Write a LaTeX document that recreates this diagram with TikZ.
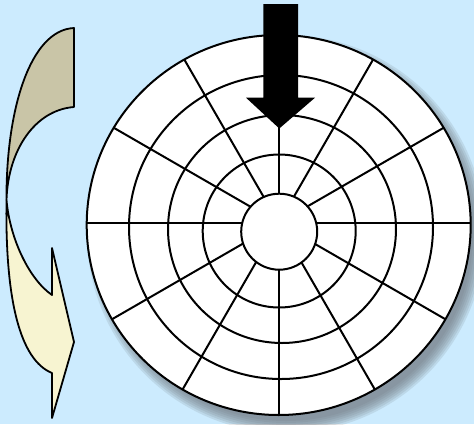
\documentclass[tikz,border=0pt]{standalone}
\usetikzlibrary{calc}
\definecolor{bg}{RGB}{204,235,254}
\definecolor{tan}{RGB}{201,197,167}
\definecolor{cream}{RGB}{247,244,209}
\definecolor{shadowc}{RGB}{110,118,126}
\tikzset{ring/.style={draw=black,line width=2pt},
  spoke/.style={draw=black,line width=2pt},
  ribbon/.style={draw=black,line width=1.8pt,line join=round}}
\begin{document}
\begin{tikzpicture}[x=1pt,y=-1pt]
\fill[bg] (0,0) rectangle (474,424);
\useasboundingbox (0,0) rectangle (474,424);
% shadow
\foreach \r in {199,197,195,193,191,189,187}{
  \fill[shadowc,opacity=0.16] (286,234) circle (\r);
}
% disk
\fill[white] (278.7,225) ellipse (192 and 190);
% spokes
\begin{scope}
\clip (278.7,225) ellipse (192 and 190);
\foreach \a in {0,30,...,330}{
  \draw[spoke] (278.7,223) -- ({278.7+200*cos(\a)},{223-200*sin(\a)});
}
\end{scope}
\draw[ring] (278.7,225) ellipse (192 and 190);
\draw[ring] (281,227) circle (152);
\draw[ring] (282,229) circle (114);
\draw[ring] (279.2,231) circle (76.5);
\draw[ring,fill=white] (279.2,231.7) circle (38);
% black arrow
\fill[black] (263.3,4) -- (298,4) -- (298,97.7) -- (315,97.7) -- (279.3,128.5) -- (246,97.7) -- (263.3,97.7) -- cycle;
% left ribbon arrow
\filldraw[ribbon,fill=tan] (74,28) .. controls (30,30) and (6,110) .. (6.5,200)
  .. controls (8,150) and (35,110) .. (74,107) -- cycle;
\filldraw[ribbon,fill=cream] (6.5,200) .. controls (5,300) and (20,360) .. (52,373)
  -- (52,418) -- (74,342) -- (52,248) -- (52,295)
  .. controls (30,280) and (10,240) .. (6.5,200) -- cycle;
\end{tikzpicture}
\end{document}
